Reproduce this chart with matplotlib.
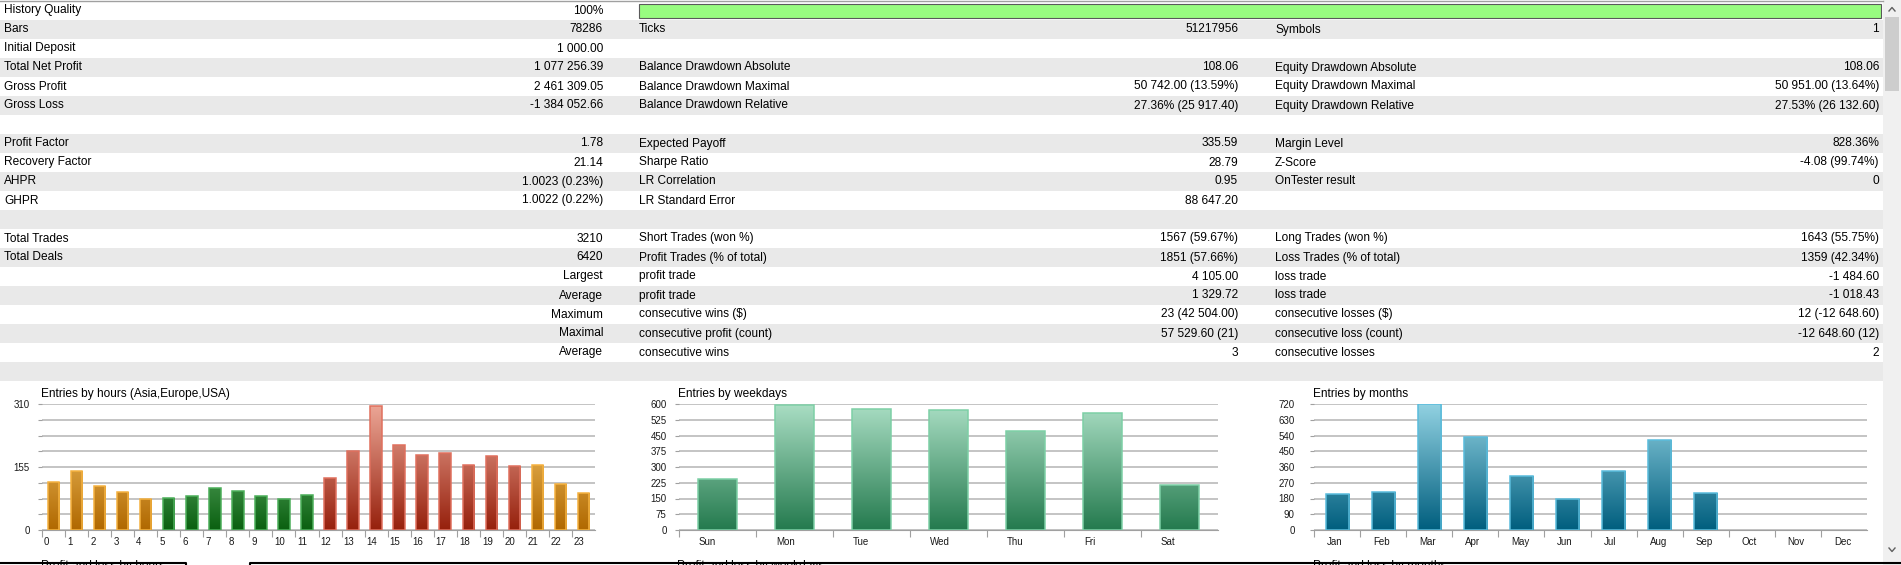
import matplotlib.pyplot as plt
import numpy as np
from matplotlib.patches import Rectangle
from matplotlib.colors import LinearSegmentedColormap

plt.rcParams['font.family'] = ['Liberation Sans', 'DejaVu Sans']

W, H = 1901, 565
DPI = 100

# ---- report table (one entry per row) ----
left_labels = ["History Quality", "Bars", "Initial Deposit", "Total Net Profit", "Gross Profit",
               "Gross Loss", "", "Profit Factor", "Recovery Factor", "AHPR", "GHPR", "",
               "Total Trades", "Total Deals", "", "", "", "", "", ""]
left_values = ["100%", "78286", "1 000.00", "1 077 256.39", "2 461 309.05", "-1 384 052.66", "",
               "1.78", "21.14", "1.0023 (0.23%)", "1.0022 (0.22%)", "", "3210", "6420",
               "", "", "", "", "", ""]
group_labels = ["", "", "", "", "", "", "", "", "", "", "", "", "", "",
                "Largest", "Average", "Maximum", "Maximal", "Average", ""]
mid_labels = ["", "Ticks", "", "Balance Drawdown Absolute", "Balance Drawdown Maximal",
              "Balance Drawdown Relative", "", "Expected Payoff", "Sharpe Ratio", "LR Correlation",
              "LR Standard Error", "", "Short Trades (won %)", "Profit Trades (% of total)",
              "profit trade", "profit trade", "consecutive wins ($)", "consecutive profit (count)",
              "consecutive wins", ""]
mid_values = ["", "51217956", "", "108.06", "50 742.00 (13.59%)", "27.36% (25 917.40)", "",
              "335.59", "28.79", "0.95", "88 647.20", "", "1567 (59.67%)", "1851 (57.66%)",
              "4 105.00", "1 329.72", "23 (42 504.00)", "57 529.60 (21)", "3", ""]
right_labels = ["", "Symbols", "", "Equity Drawdown Absolute", "Equity Drawdown Maximal",
                "Equity Drawdown Relative", "", "Margin Level", "Z-Score", "OnTester result", "", "",
                "Long Trades (won %)", "Loss Trades (% of total)", "loss trade", "loss trade",
                "consecutive losses ($)", "consecutive loss (count)", "consecutive losses", ""]
right_values = ["", "1", "", "108.06", "50 951.00 (13.64%)", "27.53% (26 132.60)", "",
                "828.36%", "-4.08 (99.74%)", "0", "", "", "1643 (55.75%)", "1359 (42.34%)",
                "-1 484.60", "-1 018.43", "12 (-12 648.60)", "-12 648.60 (12)", "2", ""]

# ---- charts ----
hours = [str(h) for h in range(24)]
hour_entries = [117, 145, 108, 94, 76, 78, 83, 103, 97, 83, 77, 87,
                128, 195, 304, 209, 185, 190, 161, 182, 157, 159, 114, 90]
hour_session = ['asia'] * 5 + ['europe'] * 7 + ['usa'] * 9 + ['asia'] * 3

weekdays = ["Sun", "Mon", "Tue", "Wed", "Thu", "Fri", "Sat"]
weekday_entries = [242, 594, 575, 570, 470, 556, 212]

months = ["Jan", "Feb", "Mar", "Apr", "May", "Jun", "Jul", "Aug", "Sep", "Oct", "Nov", "Dec"]
month_entries = [207, 217, 718, 530, 308, 177, 336, 513, 213, 0, 0, 0]

fig = plt.figure(figsize=(W / DPI, H / DPI), dpi=DPI)
fig.patch.set_facecolor('white')

bg = fig.add_axes([0, 0, 1, 1])
bg.set_xlim(0, W)
bg.set_ylim(H, 0)
bg.axis('off')

ROW_H = 19
FS = 8.6
for i in range(len(left_labels)):
    top = 1 + ROW_H * i
    yc = top + ROW_H / 2
    if i % 2 == 1:
        bg.add_patch(Rectangle((0, top), 1883, ROW_H, facecolor='#e9e9e9', edgecolor='none'))
    kw = dict(fontsize=FS, va='center', color='black', parse_math=False)
    bg.text(4, yc, left_labels[i], ha='left', **kw)
    bg.text(603, yc, left_values[i] or group_labels[i], ha='right', **kw)
    bg.text(639, yc, mid_labels[i], ha='left', **kw)
    bg.text(1238, yc, mid_values[i], ha='right', **kw)
    bg.text(1275, yc, right_labels[i], ha='left', **kw)
    bg.text(1879, yc, right_values[i], ha='right', **kw)

bg.plot([0, 1883], [0.5, 0.5], color='#a0a0a0', lw=1)
bg.add_patch(Rectangle((638.5, 3.5), 1242, 14, facecolor='#98fc80', edgecolor='#5a5a5a', lw=0.8))

# scrollbar
bg.add_patch(Rectangle((1883, 0), 18, H, facecolor='#f0f0f0', edgecolor='none'))
bg.add_patch(Rectangle((1885, 17), 14, 74, facecolor='#cdcdcd', edgecolor='none'))
bg.plot([1889, 1892, 1895], [11, 7.5, 11], color='#606060', lw=1)
bg.plot([1889, 1892, 1895], [548, 551.5, 548], color='#606060', lw=1)

# next section titles, cut off at the bottom
for x, t in [(41, "Profit and loss by hours"), (677, "Profit and loss by weekdays"),
             (1313, "Profit and loss by months")]:
    bg.text(x, 559.5, t, fontsize=FS, ha='left', va='top')
bg.plot([0, 186, 186], [563, 563, 566], color='black', lw=1.5)
bg.plot([250, 250, 1901], [566, 563, 563], color='black', lw=1.5)

grad = np.linspace(0, 1, 256).reshape(-1, 1)
cmaps = {
    'asia': LinearSegmentedColormap.from_list('asia', ['#b06800', '#ffd278']),
    'europe': LinearSegmentedColormap.from_list('europe', ['#0a6010', '#8cd296']),
    'usa': LinearSegmentedColormap.from_list('usa', ['#96200c', '#eda898']),
    'week': LinearSegmentedColormap.from_list('week', ['#247a4e', '#aadec4']),
    'month': LinearSegmentedColormap.from_list('month', ['#005e7e', '#92d2e2']),
}
edges = {'asia': '#f5b240', 'europe': '#4caf5a', 'usa': '#e0705e',
         'week': '#7dd0a6', 'month': '#5abcdc'}


def chart(x0, x1, title, cats, vals, kinds, ymax, step, ylabels, lab_off, ypad):
    ax = fig.add_axes([x0 / W, (H - 530) / H, (x1 - x0) / W, 126 / H])
    ax.set_facecolor('none')
    n = len(cats)
    x = np.arange(n)
    bars = ax.bar(x, vals, width=0.5, facecolor='none', zorder=3, lw=1.1)
    for xi, b, k in zip(x, bars, kinds):
        if b.get_height() <= 0:
            b.set_edgecolor('none')
            continue
        b.set_edgecolor(edges[k])
        im = ax.imshow(grad, extent=(xi - 0.3, xi + 0.3, 0, ymax), origin='lower',
                       aspect='auto', cmap=cmaps[k], zorder=2, interpolation='bilinear')
        im.set_clip_path(b)
    ax.set_xlim(-0.5, n - 0.5)
    ax.set_ylim(0, ymax)
    for s in ['top', 'right', 'left']:
        ax.spines[s].set_visible(False)
    ax.spines['bottom'].set_color('#a0a0a0')
    ax.set_yticks(np.arange(0, ymax + 0.1, step))
    ax.set_yticklabels(ylabels)
    ax.yaxis.grid(True, color='#b4b4b4', lw=1.1)
    ax.set_axisbelow(True)
    ax.tick_params(axis='y', length=3, color='#a0a0a0', labelsize=7, pad=ypad,
                   labelcolor='#1a1a1a')
    ax.set_xticks(x - 0.5)
    ax.set_xticklabels([])
    ax.tick_params(axis='x', length=5, color='#a0a0a0')
    for xi, c in zip(x, cats):
        ax.text(xi - 0.5 + lab_off, -0.095, c, transform=ax.get_xaxis_transform(),
                ha='left', va='center', fontsize=7, color='#1a1a1a')
    bg.text(x0 - 1, 394, title, fontsize=FS, ha='left', va='center')
    return ax


hour_ticks = [''] * 9
hour_ticks[0], hour_ticks[4], hour_ticks[8] = '0', '155', '310'
chart(42, 595, "Entries by hours (Asia,Europe,USA)", hours, hour_entries, hour_session,
      310, 310 / 8, hour_ticks, 0.09, 6)
chart(679, 1218, "Entries by weekdays", weekdays, weekday_entries, ['week'] * 7,
      600, 75, [str(v) for v in range(0, 601, 75)], 0.26, 6)
chart(1314, 1867, "Entries by months", months, month_entries, ['month'] * 12,
      720, 90, [str(v) for v in range(0, 721, 90)], 0.28, 11)

fig.savefig("out.png", dpi=DPI)
